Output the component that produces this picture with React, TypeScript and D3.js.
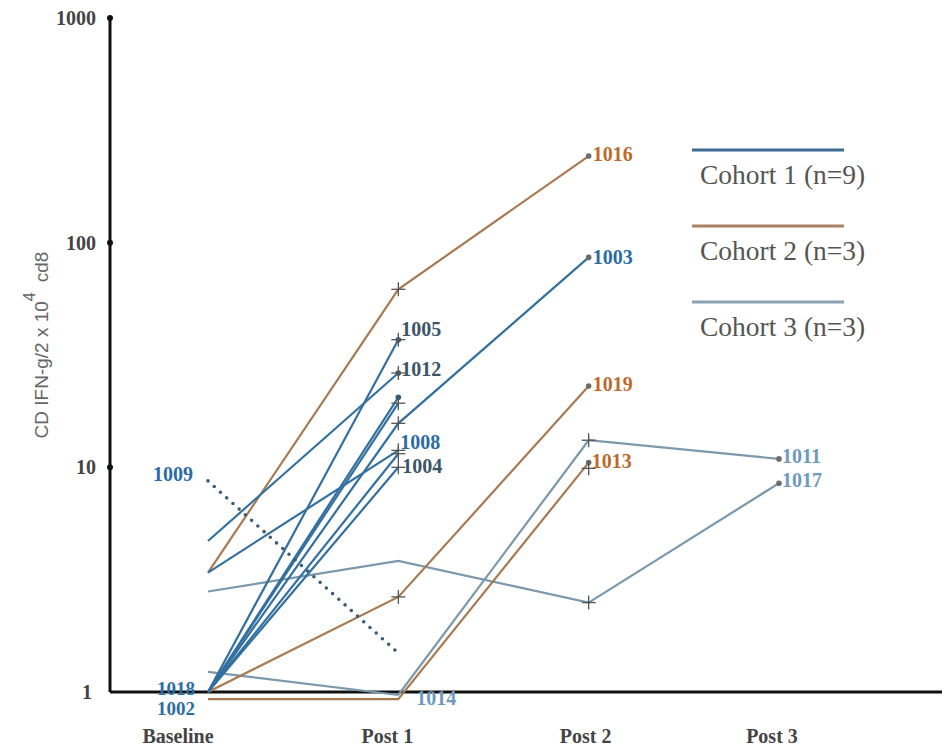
import React from "react";
import * as d3 from "d3";

const categories = ["Baseline", "Post 1", "Post 2", "Post 3"];
const yTicks = [1, 10, 100, 1000];

// cohort 1 (solid)
const cohort1Ids = ["1005", "1012", "1018", "1002", "1003", "1008", "1001", "1004"];
const cohort1Values: (number | null)[][] = [
  [1, 37, null, null],
  [4.7, 26.3, null, null],
  [1, 20.5, null, null],
  [1, 19.3, null, null],
  [1, 15.7, 86, null],
  [3.4, 11.9, null, null],
  [1, 11.5, null, null],
  [1, 10, null, null],
];
// cohort 1 dotted subject 1009
const dotted1009: (number | null)[] = [8.7, 1.49, null, null];

const cohort2Ids = ["1016", "1019", "1013"];
const cohort2Values: (number | null)[][] = [
  [3.4, 62, 243, null],
  [1.0, 2.65, 23, null],
  [0.93, 0.93, 10.5, null],
];

const cohort3Ids = ["1014", "1011", "1017"];
const cohort3Values: (number | null)[][] = [
  [1.23, 0.97, null, null],
  [null, 0.97, 13.2, 10.9],
  [2.8, 3.83, 2.5, 8.5],
];

// marker points: [category index, value]
const crossPoints: [number, number][] = [
  [1, 62], [1, 37], [1, 26.3], [1, 19.3], [1, 15.7], [1, 11.9], [1, 11.5], [1, 10],
  [1, 2.65], [2, 13.2], [2, 9.9], [2, 2.5],
];
const dotPoints: [number, number][] = [
  [2, 243], [2, 86], [2, 23], [2, 10.5], [3, 10.9], [3, 8.5], [1, 37], [1, 26.3], [1, 20.5],
];

// labels: text, category index, value of the point it belongs to, group
const labelTexts = ["1016", "1003", "1019", "1013", "1011", "1017", "1005", "1012", "1008", "1004", "1014", "1009", "1018", "1002"];
const labelCats = [2, 2, 2, 2, 3, 3, 1, 1, 1, 1, 1, 0, 0, 0];
const labelValues = [243, 86, 23, 10.5, 10.9, 8.5, 37, 26.3, 11.9, 10, 0.97, 8.7, 1, 1];
const labelGroups = ["c2", "c1", "c2", "c2", "c3", "c3", "dark", "dark", "c1", "dark", "c3", "c1", "c1", "c1"];

const legendTexts = ["Cohort 1 (n=9)", "Cohort 2 (n=3)", "Cohort 3 (n=3)"];

// ---- layout / style ----
const W = 952;
const H = 749;
const X0 = 208, X1 = 779;
const Y_TOP = 18, Y_BOT = 692;
const AXIS_X = 110;
const tickLabelShift = [-30, -11, -3, -7];
// label offsets [dx, dy, anchor]
const labelOffsets: [number, number, string][] = [
  [4, -2, "start"], [4, 0, "start"], [4, -2, "start"], [3, -2, "start"],
  [3, -3, "start"], [3, -3, "start"],
  [3, -11, "start"], [3, -4, "start"], [2, -8, "start"], [4, -1, "start"],
  [18, 3, "start"], [-15, -7, "end"], [-13, -4, "end"], [-13, 16, "end"],
];
const colors = {
  c1: "#33709f",
  c2: "#a87a52",
  c3: "#7b98ac",
  dotted: "#3b5d7b",
};
const labelColors: Record<string, string> = {
  c1: "#2a6ca6",
  c2: "#bd6a2c",
  c3: "#6e9abb",
  dark: "#3b5566",
};
const legendColors = ["#3d6b92", "#a88262", "#8ba3b4"];
const serif = "'Liberation Serif', 'Times New Roman', serif";
const sans = "'Liberation Sans', Arial, sans-serif";

export default function App() {
  const x = d3.scalePoint<string>().domain(categories).range([X0, X1]);
  const y = d3.scaleLog().domain([1, 1000]).range([Y_BOT, Y_TOP]);

  const line = d3
    .line<number | null>()
    .defined((d) => d !== null)
    .x((_, i) => x(categories[i]) as number)
    .y((d) => y(d as number));

  const xc = (i: number) => x(categories[i]) as number;

  return (
    <svg
      width={W}
      height={H}
      style={{ position: "absolute", left: 0, top: 0, background: "#fff" }}
    >
      {/* axes */}
      <line x1={AXIS_X} x2={AXIS_X} y1={y(1000)} y2={y(1)} stroke="#111" strokeWidth={3} />
      <line x1={AXIS_X} x2={942} y1={y(1)} y2={y(1)} stroke="#111" strokeWidth={3} />
      {yTicks.map((t) => (
        <g key={t}>
          {t > 1 && <circle cx={AXIS_X} cy={y(t)} r={3} fill="#111" />}
          <text
            x={t === 1 ? 92 : 96}
            y={y(t)}
            dy="0.35em"
            textAnchor="end"
            fontFamily={serif}
            fontWeight="bold"
            fontSize={20}
            fill="#444"
          >
            {t}
          </text>
        </g>
      ))}
      {categories.map((c, i) => (
        <text
          key={c}
          x={xc(i) + tickLabelShift[i]}
          y={743}
          textAnchor="middle"
          fontFamily={serif}
          fontWeight="bold"
          fontSize={20}
          fill="#444"
        >
          {c}
        </text>
      ))}

      {/* y title */}
      <g transform="translate(48,345) rotate(-90)">
        <text textAnchor="middle" fontFamily={sans} fontSize={19} fill="#666">
          <tspan>CD IFN-g/2 x 10</tspan>
          <tspan dy={-13} fontSize={16}>4</tspan>
          <tspan dy={13} dx={10}>cd8</tspan>
        </text>
      </g>

      {/* series */}
      {cohort3Values.map((s, i) => (
        <path key={"c3" + cohort3Ids[i]} d={line(s) || ""} fill="none" stroke={colors.c3} strokeWidth={2.2} />
      ))}
      {cohort2Values.map((s, i) => (
        <path key={"c2" + cohort2Ids[i]} d={line(s) || ""} fill="none" stroke={colors.c2} strokeWidth={2.2} />
      ))}
      {cohort1Values.map((s, i) => (
        <path key={"c1" + cohort1Ids[i]} d={line(s) || ""} fill="none" stroke={colors.c1} strokeWidth={2.2} />
      ))}
      <path
        d={line(dotted1009) || ""}
        fill="none"
        stroke={colors.dotted}
        strokeWidth={3.6}
        strokeLinecap="round"
        strokeDasharray="0 8.4"
      />

      {/* markers */}
      {dotPoints.map(([ci, v], k) => (
        <circle key={"d" + k} cx={xc(ci)} cy={y(v)} r={2.8} fill={ci === 1 ? "#355c7c" : "#6d6d6d"} />
      ))}
      {crossPoints.map(([ci, v], k) => {
        const cx = xc(ci);
        const cy = y(v);
        return (
          <g key={"x" + k} stroke="#555" strokeWidth={1.3}>
            <line x1={cx - 7} x2={cx + 7} y1={cy} y2={cy} />
            <line x1={cx} x2={cx} y1={cy - 7} y2={cy + 7} />
          </g>
        );
      })}

      {/* labels */}
      {labelTexts.map((t, i) => {
        const [dx, dy, anchor] = labelOffsets[i];
        return (
          <text
            key={"l" + t}
            x={xc(labelCats[i]) + dx}
            y={y(labelValues[i]) + dy}
            dy="0.35em"
            textAnchor={anchor as any}
            fontFamily={serif}
            fontWeight="bold"
            fontSize={labelCats[i] === 0 && labelValues[i] === 1 ? 19 : 20}
            fill={labelColors[labelGroups[i]]}
          >
            {t}
          </text>
        );
      })}

      {/* legend */}
      {legendTexts.map((t, i) => (
        <g key={t} transform={`translate(692,${150 + i * 76})`}>
          <line x1={0} x2={152} y1={0} y2={0} stroke={legendColors[i]} strokeWidth={3} />
          <text x={8} y={34} fontFamily={serif} fontSize={27.5} fill="#555">
            {t}
          </text>
        </g>
      ))}
    </svg>
  );
}
